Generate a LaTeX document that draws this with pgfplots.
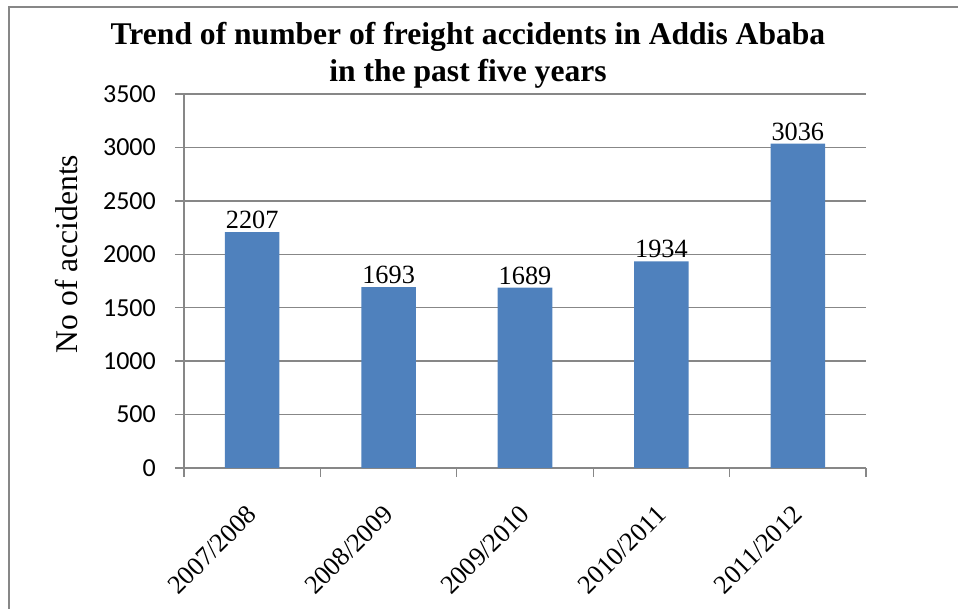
\documentclass[border=0pt]{standalone}
\usepackage{pgfplots}
\pgfplotsset{compat=1.18}
\usepackage{fontspec}
\setmainfont{Liberation Serif}
\newfontfamily\calibri{Carlito}
\newfontfamily\timesf{Liberation Serif}

\definecolor{barblue}{HTML}{4F81BD}
\definecolor{linegray}{HTML}{878787}

\newcommand{\yr}[1]{{\timesf\fontsize{26.3}{30}\selectfont #1}}

\begin{document}
\begin{tikzpicture}[x=1pt,y=1pt]
% page size and the chart frame (top and left edges)
\path[use as bounding box] (0,0) rectangle (958,609);
\draw[linegray, line width=1.5pt] (9,0) -- (9,602) -- (958,602);

\begin{axis}[
  at={(184pt,141pt)}, anchor=south west,
  scale only axis, width=682pt, height=374pt,
  xmin=-0.5, xmax=4.5, ymin=0, ymax=3500,
  axis lines*=left,
  axis line style={-, draw=linegray, line width=1.3pt},
  ymajorgrids,
  grid style={draw=linegray, line width=1.3pt},
  ytick={0,500,...,3500},
  xtick={-0.5,0.5,...,4.5},
  xticklabels={},
  tick align=outside,
  major tick length=9pt,
  tick style={draw=linegray, line width=1.3pt},
  yticklabel style={font=\calibri\fontsize{26}{30}\selectfont, inner sep=0pt, xshift=-19pt},
  /pgf/number format/assume math mode=true,
  /pgf/number format/1000 sep={},
  extra x ticks={0,1,2,3,4},
  extra x tick labels={\yr{2007/2008},\yr{2008/2009},\yr{2009/2010},\yr{2010/2011},\yr{2011/2012}},
  extra x tick style={
    major tick length=0pt,
    xticklabel style={xshift=0pt, yshift=-42pt, rotate=45, anchor=east, inner sep=0pt},
  },
  ybar, bar width=0.4,
  nodes near coords,
  every node near coord/.append style={font=\timesf\fontsize{26.3}{30}\selectfont,
    inner sep=0pt, anchor=south, yshift=3pt, color=black},
  clip=false,
]
\addplot[fill=barblue, draw=none] coordinates {
  (0,2207) (1,1693) (2,1689) (3,1934) (4,3036)
};
\end{axis}

% title and axis title
\node[anchor=base, font=\bfseries\fontsize{31.6}{38}\selectfont] at (468,564) {Trend of number of freight accidents in Addis Ababa};
\node[anchor=base, font=\bfseries\fontsize{31.6}{38}\selectfont] at (468,527) {in the past five years};
\node[anchor=base, rotate=90, font=\fontsize{31.6}{38}\selectfont] at (77,355) {No of accidents};
\end{tikzpicture}
\end{document}
